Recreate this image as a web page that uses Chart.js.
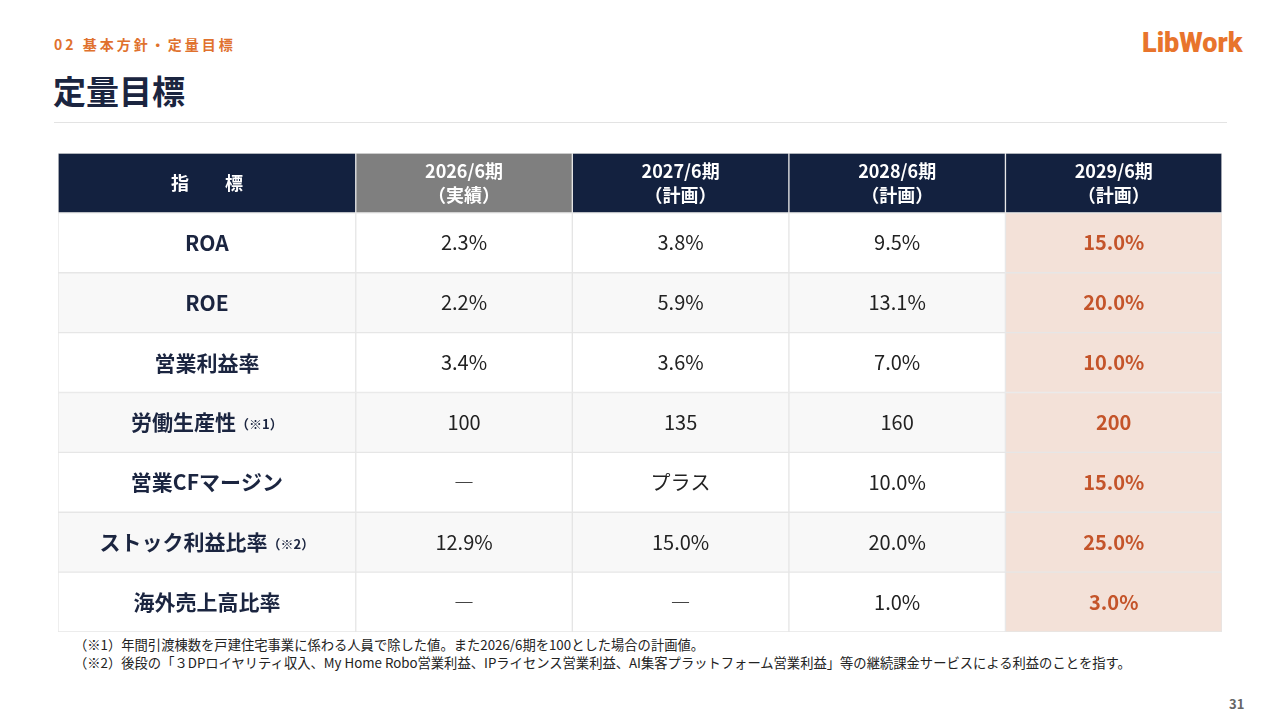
<!DOCTYPE html>
<html><head><meta charset="utf-8">
<script src="https://cdn.jsdelivr.net/npm/chart.js@4"></script>
<style>
body{margin:0;width:1280px;height:720px;background:#fff;font-family:"Noto Sans CJK JP",sans-serif;position:relative;overflow:hidden}
.sec{position:absolute;left:54px;top:34px;font-size:14px;font-weight:700;color:#e0712d;letter-spacing:3px}
.ttl{position:absolute;left:53px;top:66px;font-size:33px;font-weight:700;color:#1b2540}
.rule{position:absolute;left:54px;top:122px;width:1173px;height:1px;background:#e3e3e3}
.logo{position:absolute;left:1142px;top:27px;font-family:Roboto,sans-serif;font-size:27px;font-weight:900;color:#e8742c}
.note{position:absolute;left:74px;font-size:13.3px;color:#222}
.pg{position:absolute;left:1229px;top:694px;font-size:13px;font-weight:700;color:#666}
#wrap{position:absolute;left:58px;top:153px;width:1164px;height:479px}
</style></head><body>
<div class="sec">02 基本方針・定量目標</div>
<div class="ttl">定量目標</div>
<div class="rule"></div>
<div class="logo">LibWork</div>
<div id="wrap"><canvas id="c"></canvas></div>
<div class="note" style="top:635px">（※1）年間引渡棟数を戸建住宅事業に係わる人員で除した値。また2026/6期を100とした場合の計画値。</div>
<div class="note" style="top:653px">（※2）後段の「３DPロイヤリティ収入、My Home Robo営業利益、IPライセンス営業利益、AI集客プラットフォーム営業利益」等の継続課金サービスによる利益のことを指す。</div>
<div class="pg">31</div>
<script>
const headers = [['指　　標'], ['2026/6期', '（実績）'], ['2027/6期', '（計画）'], ['2028/6期', '（計画）'], ['2029/6期', '（計画）']];
const indicators = ['ROA', 'ROE', '営業利益率', '労働生産性', '営業CFマージン', 'ストック利益比率', '海外売上高比率'];
const notes = ['', '', '', '（※1）', '', '（※2）', ''];
const fy2026 = ['2.3%', '2.2%', '3.4%', '100', '―', '12.9%', '―'];
const fy2027 = ['3.8%', '5.9%', '3.6%', '135', 'プラス', '15.0%', '―'];
const fy2028 = ['9.5%', '13.1%', '7.0%', '160', '10.0%', '20.0%', '1.0%'];
const fy2029 = ['15.0%', '20.0%', '10.0%', '200', '15.0%', '25.0%', '3.0%'];

const rows = ['header', ...indicators];
const colEdges = [0, 1.375, 2.375, 3.375, 4.375, 5.375];
const columns = [indicators, fy2026, fy2027, fy2028, fy2029];

function cellColor(col, row) {
  if (row === 0) return col === 1 ? '#7f7f7f' : '#13213f';
  if (col === 4) return '#f3e1d8';
  return row % 2 === 0 ? '#f8f8f8' : '#ffffff';
}
const datasets = columns.map((_, c) => ({
  data: rows.map(() => [colEdges[c], colEdges[c + 1]]),
  backgroundColor: rows.map((_, r) => cellColor(c, r)),
  borderColor: '#e6e6e6', borderWidth: 1, borderSkipped: false,
  grouped: false, barPercentage: 1, categoryPercentage: 1
}));

const textPlugin = {
  id: 'cellText',
  afterDraw(chart) {
    const ctx = chart.ctx, x = chart.scales.x, y = chart.scales.y;
    const F = '"Noto Sans CJK JP", sans-serif';
    ctx.save();
    ctx.textAlign = 'center'; ctx.textBaseline = 'middle';
    for (let c = 0; c < columns.length; c++) {
      const cx = (x.getPixelForValue(colEdges[c]) + x.getPixelForValue(colEdges[c + 1])) / 2;
      const hy = y.getPixelForValue(0);
      ctx.fillStyle = '#fff'; ctx.font = 'bold 18px ' + F;
      const h = headers[c];
      if (h.length === 1) ctx.fillText(h[0], cx, hy);
      else { ctx.fillText(h[0], cx, hy - 12); ctx.fillText(h[1], cx, hy + 12); }
      for (let r = 0; r < indicators.length; r++) {
        const cy = y.getPixelForValue(r + 1);
        const v = columns[c][r];
        if (c === 0) {
          ctx.fillStyle = '#1b2540'; ctx.font = 'bold 21px ' + F;
          const w1 = ctx.measureText(v).width;
          ctx.font = 'bold 13px ' + F;
          const w2 = notes[r] ? ctx.measureText(notes[r]).width : 0;
          const sx = cx - (w1 + w2) / 2;
          ctx.textAlign = 'left';
          ctx.font = 'bold 21px ' + F; ctx.fillText(v, sx, cy);
          if (notes[r]) { ctx.font = 'bold 13px ' + F; ctx.fillText(notes[r], sx + w1, cy + 2); }
          ctx.textAlign = 'center';
        } else if (c === 4) {
          ctx.fillStyle = '#c4542a'; ctx.font = 'bold 20px ' + F; ctx.fillText(v, cx, cy);
        } else {
          ctx.fillStyle = '#222'; ctx.font = '20px ' + F; ctx.fillText(v, cx, cy);
        }
      }
    }
    ctx.restore();
  }
};

new Chart(document.getElementById('c'), {
  type: 'bar',
  data: { labels: rows, datasets },
  options: {
    indexAxis: 'y', responsive: true, maintainAspectRatio: false, animation: false,
    layout: { padding: 0 },
    plugins: { legend: { display: false }, tooltip: { enabled: false } },
    scales: {
      x: { type: 'linear', min: 0, max: colEdges[colEdges.length - 1], display: false },
      y: { type: 'category', display: false }
    }
  },
  plugins: [textPlugin]
});
</script>
</body></html>
